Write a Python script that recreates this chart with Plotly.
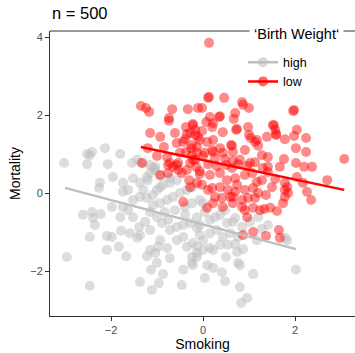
import plotly.graph_objects as go

# ---- data ----
low_x = [-1.35,-1.24,-1.17,-0.67,-0.33,-0.11,-0.74,-0.74,-1.15,-0.93,-0.61,-0.37,-0.22,-0.35,-0.17,-0.39,-0.57,-0.85,-1.20,-1.00,
         -0.78,-0.54,-0.37,-0.26,-1.33,-0.76,-0.13,-0.13,-0.17,0.13,0.13,0.46,0.85,0.87,1.00,-0.02,0.15,0.35,0.70,0.67,
         0.07,0.22,1.96,1.98,0.74,0.72,0.43,0.98,1.00,1.39,1.59,1.78,2.04,1.98,2.24,2.24,1.76,2.02,1.41,1.20,
         1.17,0.63,0.22,-0.17,-0.11,-0.22,3.07,2.20,2.37,1.41,1.67,1.02,0.80,0.43,0.65,0.22,0.04,1.54,1.59,2.02,
         2.70,2.04,1.78,1.83,1.78,1.57,1.50,2.17,2.26,2.35,1.85,1.78,1.74,1.61,1.33,1.46,1.37,1.20,0.96,0.91,
         0.85,0.65,0.65,0.70,1.65,1.67,1.37,1.09,0.87,0.09,-0.93,-0.72,-0.57,-0.46,-0.35,-0.28,-0.43,-0.30,-0.15,-0.07,
         -0.13,-0.76,-0.65,-0.54,-0.28,-0.22,-0.28,-0.02,-0.43,-0.24,-0.07,0.09,-0.50,-0.24,0.00,0.11,0.37,0.20,1.52,1.57,
         0.61,0.37,0.20,0.91,1.04,1.13,1.28,0.26,0.48,0.65,0.11,0.30,0.50,0.63,0.76,0.96,1.13,1.30,1.41,0.15,
         0.37,0.52,0.70,0.91,1.07,1.17,1.28,0.20,0.37,0.54,0.74,0.91,1.09,0.26,0.41,0.59,0.85,0.98,1.13,0.22,
         0.43,1.09,1.24,-0.07,-0.02,0.11]
low_y = [2.23,2.18,2.08,2.15,2.15,2.18,1.92,1.85,1.54,1.44,1.54,1.69,1.74,1.51,1.49,1.38,1.28,1.18,1.15,0.95,
         0.92,0.77,1.05,1.15,0.77,0.72,1.18,1.03,0.85,3.85,2.46,2.44,2.33,2.26,2.18,2.18,1.95,1.95,2.05,1.90,
         1.82,1.79,2.10,2.13,1.64,1.62,1.56,1.69,1.49,1.44,1.51,1.38,1.62,1.46,1.41,1.05,0.87,0.77,0.92,1.21,
         1.36,1.21,1.36,1.62,1.44,1.77,0.87,0.67,0.67,0.67,0.67,0.77,0.85,1.03,1.05,1.05,1.03,1.74,1.49,1.15,
         0.33,0.41,0.26,0.15,0.08,0.36,0.15,0.26,0.03,-0.18,0.00,-0.10,-0.26,-0.46,-0.41,-0.38,-0.05,0.00,-0.62,-0.44,
         -0.36,-0.26,-0.10,0.03,-0.95,-1.15,-1.10,-1.00,-1.08,-0.38,0.46,0.77,0.72,0.51,0.59,0.15,-0.23,0.33,0.67,0.56,
         0.26,0.51,0.67,0.59,0.77,0.85,1.54,1.59,1.31,1.23,1.36,1.31,1.03,0.97,0.95,2.44,1.97,1.69,1.74,1.62,
         1.23,1.15,1.10,1.10,1.41,1.31,0.97,0.90,0.87,0.82,0.74,0.69,0.72,0.64,0.74,0.69,0.79,0.64,0.54,0.46,
         0.51,0.33,0.38,0.46,0.51,0.28,0.33,0.13,0.15,0.08,0.21,0.08,0.13,-0.10,-0.13,-0.10,-0.18,-0.13,-0.13,-0.26,
         -0.36,-0.38,-0.44,0.49,0.21,0.08]

high_x = [-3.02,-2.52,-2.52,-2.46,-2.41,-2.13,-1.80,-2.07,-1.54,-1.43,-1.15,-1.04,-1.96,-2.24,-2.26,-1.74,-1.74,-1.63,-1.52,-1.37,
          -1.20,-1.15,-1.04,-0.93,-2.61,-2.41,-2.39,-2.35,-2.22,-1.98,-2.46,-2.09,-1.98,-1.78,-1.59,-1.39,-1.37,-1.43,-1.52,-1.80,
          -1.74,-1.63,-2.96,-2.09,-1.83,-1.67,-1.22,-1.15,-1.04,-0.98,-0.93,-1.00,-1.13,-0.87,-0.72,-0.78,-1.37,-1.11,-0.96,-2.46,
          -0.43,-0.46,-0.22,-0.13,-0.24,-0.13,-0.35,-0.57,-0.43,-0.72,-0.57,-0.43,-0.28,-0.13,-1.00,-0.89,-0.76,-1.15,-1.09,-0.93,
          -0.78,-0.65,-0.50,-0.35,-0.22,-1.37,-1.52,-1.22,-1.30,-1.00,-0.87,-0.72,-0.57,-1.26,-1.15,-0.83,-0.61,-0.39,-0.24,-0.07,
          -1.30,-1.09,-1.22,-0.93,-0.72,-1.09,-0.39,-0.07,0.04,0.15,2.02,1.09,0.80,0.96,0.83,0.48,0.41,0.22,0.04,0.09,
          0.80,0.76,0.50,0.74,0.87,1.17,1.28,1.83,1.78,0.70,0.76,0.43,0.22,0.15,0.00,-0.13,-0.24,0.85,0.65,0.52,
          0.48,0.37,0.26,-0.13,-0.07,0.00,-0.22,0.00,0.15,0.30,0.59,0.37,0.54,1.20,1.41,1.02,0.70]
high_y = [0.77,0.74,1.00,0.97,1.05,1.15,1.00,0.74,0.77,0.85,0.72,0.67,0.41,0.26,0.13,0.26,0.03,0.08,0.38,0.26,
          0.33,0.51,0.59,0.44,-0.56,-0.49,-0.64,-0.82,-0.54,-0.36,-1.13,-1.10,-1.13,-0.97,-1.03,-0.87,-1.08,-1.15,-0.62,-0.62,
          -0.36,-0.44,-1.64,-1.46,-1.38,-1.62,-1.62,-1.46,-1.54,-1.38,-1.21,-1.79,-1.97,-2.08,-1.67,-1.41,-2.28,-2.49,-2.31,-2.38,
          -1.97,-2.36,-1.85,-1.64,-1.64,-1.38,-1.38,-1.21,-1.13,-0.95,-0.87,-0.82,-0.77,-0.62,-0.62,-0.77,-0.69,-0.49,-0.31,-0.26,
          -0.18,-0.10,0.00,0.08,0.15,-0.10,-0.18,-0.13,0.08,0.08,0.21,0.26,0.33,-0.74,-0.95,-0.49,-0.44,-0.36,-0.26,-0.18,
          0.77,0.64,0.41,0.15,0.38,-0.05,-0.56,-0.82,-0.49,-0.69,-1.97,-2.08,-2.41,-2.69,-2.82,-2.26,-2.03,-1.92,-2.18,-1.85,
          -1.85,-1.79,-1.64,-1.51,-1.44,-1.21,-0.92,-1.21,-1.15,-1.31,-1.13,-1.13,-1.46,-1.41,-1.46,-1.54,-1.79,-0.87,-0.74,-0.77,
          -0.44,-0.56,-0.62,-0.90,-1.08,-0.26,-1.28,-1.21,-1.03,-0.95,-1.03,-1.33,-1.33,-0.62,-0.82,-0.74,-0.64]

# fitted regression lines (end points)
fit_high_x = [-3.00, 2.02]
fit_high_y = [0.13, -1.44]
fit_low_x = [-1.35, 3.07]
fit_low_y = [1.18, 0.08]

groups = ["high", "low"]
legend_title = "‘Birth Weight‘"
x_ticks = [-2, 0, 2]
y_ticks = [-2, 0, 2, 4]

GRAY = "#bebebe"
RED = "#ff0000"

fig = go.Figure()
fig.add_trace(go.Scatter(x=high_x, y=high_y, mode="markers", showlegend=False,
                         marker=dict(size=10, color=GRAY, opacity=0.52, line=dict(width=0))))
fig.add_trace(go.Scatter(x=low_x, y=low_y, mode="markers", showlegend=False,
                         marker=dict(size=10, color=RED, opacity=0.46, line=dict(width=0))))
fig.add_trace(go.Scatter(x=fit_high_x, y=fit_high_y, mode="lines", showlegend=False,
                         line=dict(color=GRAY, width=2.2)))
fig.add_trace(go.Scatter(x=fit_low_x, y=fit_low_y, mode="lines", showlegend=False,
                         line=dict(color=RED, width=2.5)))
# legend entries
for g, c in zip(groups, [GRAY, RED]):
    fig.add_trace(go.Scatter(x=[None], y=[None], mode="lines+markers", name=g,
                             marker=dict(size=10, color=c, opacity=0.6),
                             line=dict(color=c, width=2.5)))

axis_common = dict(showgrid=False, zeroline=False, showline=True, linecolor="#333333", linewidth=1,
                   ticks="outside", ticklen=4, tickcolor="#333333",
                   tickfont=dict(family="Liberation Sans, Arial", size=11, color="#4d4d4d"))
fig.update_xaxes(range=[-3.326, 3.304], tickvals=x_ticks,
                 title=dict(text="Smoking", font=dict(family="Liberation Sans, Arial", size=14, color="black"), standoff=3),
                 **axis_common)
fig.update_yaxes(range=[-3.154, 4.154], tickvals=y_ticks,
                 title=dict(text="Mortality", font=dict(family="Liberation Sans, Arial", size=14, color="black"), standoff=6),
                 **axis_common)

fig.update_layout(
    width=355, height=353,
    margin=dict(l=50, r=0, t=31, b=37),
    paper_bgcolor="white", plot_bgcolor="white",
    font=dict(family="Liberation Sans, Arial", color="black"),
    shapes=[dict(type="line", xref="paper", yref="paper", x0=0, x1=1, y0=1, y1=1,
                 line=dict(color="#333333", width=1), layer="below")],
    annotations=[
        dict(text="n = 500", xref="paper", yref="paper", x=0, y=1.0, yshift=7,
             xanchor="left", yanchor="bottom", showarrow=False,
             font=dict(size=16.5, color="black")),
        dict(text=legend_title, xref="paper", yref="paper", x=0.652, y=0.9895,
             xanchor="left", yanchor="middle", showarrow=False, bgcolor="white", borderpad=4,
             font=dict(size=14.5, color="black")),
    ],
    legend=dict(x=0.633, y=0.942, xanchor="left", yanchor="top",
                bgcolor="rgba(255,255,255,0)", font=dict(size=12.5, color="black"),
                itemwidth=30, tracegroupgap=0),
)

fig.write_html("out.html", config={"displayModeBar": False},
               post_script="document.body.style.margin='0px';document.body.style.overflow='hidden';")
